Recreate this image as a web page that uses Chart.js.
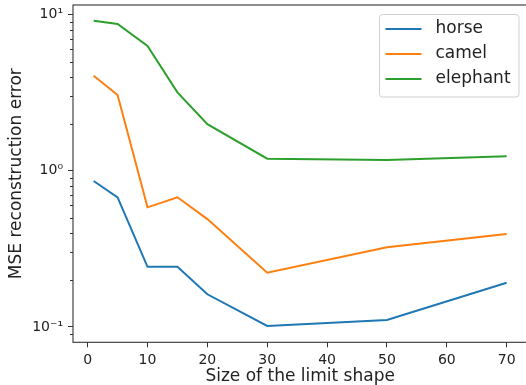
<!DOCTYPE html>
<html>
<head>
<meta charset="utf-8">
<script src="https://cdn.jsdelivr.net/npm/chart.js@4/dist/chart.umd.min.js"></script>
<style>
html,body{margin:0;padding:0;overflow:hidden;background:#fff;}
canvas{display:block;}
</style>
</head>
<body>
<canvas id="c" width="540" height="385"></canvas>
<script>
const sizes = [1, 5, 10, 15, 20, 30, 50, 70];
const horse = [0.861, 0.677, 0.243, 0.243, 0.162, 0.1015, 0.111, 0.192];
const camel = [4.07, 3.06, 0.584, 0.677, 0.491, 0.2227, 0.324, 0.394];
const elephant = [9.16, 8.72, 6.30, 3.18, 1.99, 1.196, 1.174, 1.24];
const seriesNames = ['horse', 'camel', 'elephant'];
const xTicks = [0, 10, 20, 30, 40, 50, 60, 70];
const yMajorTicks = [0.1, 1, 10];
const yMajorLabels = ['10\u207B\u00B9', '10\u2070', '10\u00B9'];
const yMinorTicks = [0.08, 0.09, 0.2, 0.3, 0.4, 0.5, 0.6, 0.7, 0.8, 0.9, 2, 3, 4, 5, 6, 7, 8, 9];

const colors = ['#1f77b4', '#ff7f0e', '#2ca02c'];
const FONT = 'DejaVu Sans';

function pts(ys) { return sizes.map((x, i) => ({x: x, y: ys[i]})); }

const spinesPlugin = {
  id: 'spines',
  afterDatasetsDraw(chart) {
    const ctx = chart.ctx, a = chart.chartArea;
    ctx.save();
    ctx.strokeStyle = '#333';
    ctx.lineWidth = 1.1;
    ctx.strokeRect(a.left, a.top, a.right - a.left, a.bottom - a.top);
    const ys = chart.scales.y;
    ctx.lineWidth = 1;
    yMinorTicks.forEach(v => {
      const p = Math.round(ys.getPixelForValue(v)) + 0.5;
      if (p < a.top || p > a.bottom) return;
      ctx.beginPath();
      ctx.moveTo(a.left - 3, p);
      ctx.lineTo(a.left, p);
      ctx.stroke();
    });
    ctx.restore();
  }
};

const legendPlugin = {
  id: 'boxLegend',
  afterDraw(chart) {
    const ctx = chart.ctx, a = chart.chartArea;
    const left = 379.5, top = a.top + 9.5, w = 139.5, h = 82.5, r = 3;
    ctx.save();
    ctx.fillStyle = 'rgba(255,255,255,0.85)';
    ctx.strokeStyle = '#d0d0d0';
    ctx.lineWidth = 1;
    ctx.beginPath();
    ctx.roundRect(left, top, w, h, r);
    ctx.fill();
    ctx.stroke();
    ctx.font = '17px "' + FONT + '"';
    ctx.textBaseline = 'middle';
    ctx.textAlign = 'left';
    chart.data.datasets.forEach((ds, i) => {
      const y = top + 14.5 + i * 25;
      ctx.strokeStyle = ds.borderColor;
      ctx.lineWidth = 2;
      ctx.beginPath();
      ctx.moveTo(left + 6, y);
      ctx.lineTo(left + 42, y);
      ctx.stroke();
      ctx.fillStyle = '#222';
      ctx.fillText(ds.label, left + 56, y);
    });
    ctx.restore();
  }
};

new Chart(document.getElementById('c'), {
  type: 'line',
  data: {
    datasets: [horse, camel, elephant].map((ys, i) => ({
      label: seriesNames[i],
      data: pts(ys),
      borderColor: colors[i],
      backgroundColor: colors[i],
      borderWidth: 2,
      pointRadius: 0,
      tension: 0,
      fill: false
    }))
  },
  options: {
    responsive: false,
    animation: false,
    layout: {padding: {top: 5, right: 12.7, bottom: 0, left: 0}},
    plugins: {legend: {display: false}, tooltip: {enabled: false}},
    scales: {
      x: {
        type: 'linear',
        min: -2.45,
        max: 73.45,
        afterBuildTicks: s => { s.ticks = xTicks.map(v => ({value: v})); },
        afterFit: s => { s.height = 42.7; s.paddingLeft = 0; s.paddingRight = 0; },
        grid: {display: true, drawOnChartArea: false, drawTicks: true, tickLength: 5, tickColor: '#333', tickWidth: 1},
        border: {display: false},
        ticks: {font: {family: FONT, size: 14}, color: '#222', padding: 5, maxRotation: 0, autoSkip: false},
        title: {display: true, text: 'Size of the limit shape', font: {family: FONT, size: 17, lineHeight: 1}, color: '#222', padding: {top: 0, bottom: 0}}
      },
      y: {
        type: 'logarithmic',
        min: 0.0798,
        max: 11.54,
        afterBuildTicks: s => { s.ticks = yMajorTicks.map(v => ({value: v, major: true})); },
        afterFit: s => { s.width = 73; s.paddingTop = 0; s.paddingBottom = 0; },
        grid: {display: true, drawOnChartArea: false, drawTicks: true, tickLength: 5, tickColor: '#333', tickWidth: 1},
        border: {display: false},
        ticks: {
          font: {family: FONT, size: 14}, color: '#222', padding: 5, autoSkip: false,
          callback: (v) => { const k = yMajorTicks.indexOf(v); return k >= 0 ? yMajorLabels[k] : ''; }
        },
        title: {display: true, text: 'MSE reconstruction error', font: {family: FONT, size: 17, lineHeight: 1}, color: '#222', padding: {top: 8.5, bottom: 0}}
      }
    }
  },
  plugins: [spinesPlugin, legendPlugin]
});
</script>
</body>
</html>
